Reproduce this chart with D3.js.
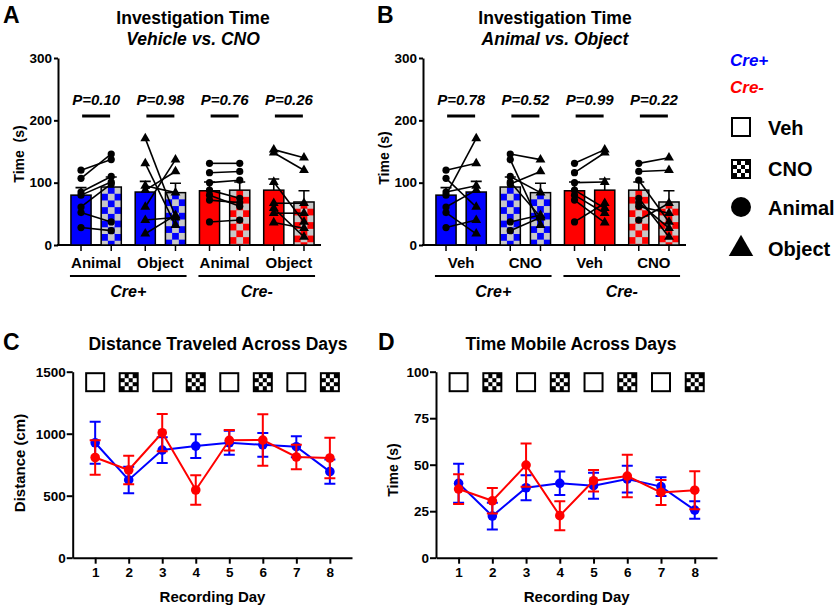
<!DOCTYPE html>
<html><head><meta charset="utf-8">
<script src="https://cdn.jsdelivr.net/npm/d3@7"></script>
<style>
body{margin:0;background:#fff}
svg{display:block;font-family:"Liberation Sans",Arial,Helvetica,sans-serif;font-weight:bold}
</style>
</head><body>
<svg id="fig" width="837" height="609"></svg>
<script>
// ---------------- DATA ----------------
const genotypes = ["Cre+", "Cre-"];
const measures = ["Animal", "Object"];
const treatments = ["Veh", "CNO"];
// bar means / SEM, order: [Animal-Veh, Animal-CNO, Object-Veh, Object-CNO]
const crePlusMean = [80, 93, 85, 84];
const crePlusSem = [12, 16, 17, 15];
const creMinusMean = [87, 88, 88, 69];
const creMinusSem = [14, 13, 18, 18];
// individual mice (s)
const crePlusAnimalVeh = [120, 107, 85, 80, 61, 52, 28];
const crePlusAnimalCNO = [137, 146, 110, 101, 98, 37, 23];
const crePlusObjectVeh = [131, 61, 95, 171, 88, 18, 40];
const crePlusObjectCNO = [32, 137, 84, 45, 118, 48, 44];
const creMinusAnimalVeh = [131, 116, 100, 88, 80, 72, 37];
const creMinusAnimalCNO = [131, 118, 104, 75, 62, 68, 40];
const creMinusObjectVeh = [153, 148, 101, 59, 51, 36, 67];
const creMinusObjectCNO = [140, 120, 37, 13, 51, 27, 67];
const pValuesA = ["P=0.10", "P=0.98", "P=0.76", "P=0.26"];
const pValuesB = ["P=0.78", "P=0.52", "P=0.99", "P=0.22"];
const yTicksAB = [0, 100, 200, 300];

const days = [1, 2, 3, 4, 5, 6, 7, 8];
const dayTreatment = ["Veh", "CNO", "Veh", "CNO", "Veh", "CNO", "Veh", "CNO"];
const distCrePlus = [927, 627, 868, 900, 927, 910, 895, 694];
const distCrePlusSem = [170, 107, 104, 95, 97, 95, 85, 97];
const distCreMinus = [808, 707, 1008, 546, 947, 949, 812, 804];
const distCreMinusSem = [140, 115, 150, 118, 83, 208, 98, 163];
const yTicksC = [0, 500, 1000, 1500];
const mobCrePlus = [40.0, 22.4, 37.6, 40.0, 38.7, 42.3, 38.2, 25.6];
const mobCrePlusSem = [10.5, 7.2, 6.7, 6.3, 7.0, 7.2, 5.0, 4.7];
const mobCreMinus = [36.9, 30.6, 49.8, 22.6, 41.4, 43.9, 35.1, 36.3];
const mobCreMinusSem = [8.0, 6.9, 11.6, 7.8, 5.8, 11.4, 6.7, 10.2];
const yTicksD = [0, 25, 50, 75, 100];

// ---------------- SETUP ----------------
const BLUE = "#0000ff", RED = "#ff0000", GRAY = "#c8c8c8";
const colorOf = g => g === "Cre+" ? BLUE : RED;
const mice = {
  "Cre+": {Animal: {Veh: crePlusAnimalVeh, CNO: crePlusAnimalCNO}, Object: {Veh: crePlusObjectVeh, CNO: crePlusObjectCNO}},
  "Cre-": {Animal: {Veh: creMinusAnimalVeh, CNO: creMinusAnimalCNO}, Object: {Veh: creMinusObjectVeh, CNO: creMinusObjectCNO}}
};
const meanOf = g => g === "Cre+" ? crePlusMean : creMinusMean;
const semOf = g => g === "Cre+" ? crePlusSem : creMinusSem;
const idx = (m, t) => measures.indexOf(m) * 2 + treatments.indexOf(t);

const svg = d3.select("#fig");
const defs = svg.append("defs");
let pid = 0;
function checkerPattern(color, x0, y0, cell) {
  const id = "chk" + (pid++);
  const p = defs.append("pattern").attr("id", id).attr("patternUnits", "userSpaceOnUse")
    .attr("x", x0).attr("y", y0).attr("width", cell * 2).attr("height", cell * 2);
  p.append("rect").attr("width", cell * 2).attr("height", cell * 2).attr("fill", GRAY);
  p.append("rect").attr("x", cell).attr("width", cell).attr("height", cell).attr("fill", color);
  p.append("rect").attr("y", cell).attr("width", cell).attr("height", cell).attr("fill", color);
  return "url(#" + id + ")";
}
function styleAxis(sel, fs) {
  sel.attr("font-size", null).attr("font-family", null);
  sel.selectAll("path,line").attr("stroke", "#000").attr("stroke-width", 2);
  sel.selectAll("text").style("font-size", (fs || 13) + "px").style("font-weight", "bold").attr("fill", "#000")
    .style("font-family", '"Liberation Sans",Arial,sans-serif');
}
function triangle(sz) { return d3.symbol(d3.symbolTriangle).size(sz)(); }
function cnoIcon(g, cx, top, size) {
  g.append("rect").attr("x", cx - size / 2).attr("y", top).attr("width", size).attr("height", size).attr("fill", "#000");
  const inner = size - 4, n = 4, c = inner / n;
  for (let r = 0; r < n; r++) for (let k = 0; k < n; k++) if ((r + k) % 2 === 0)
    g.append("rect").attr("x", cx - size / 2 + 2 + k * c).attr("y", top + 2 + r * c).attr("width", c).attr("height", c).attr("fill", "#fff");
}
function vehIcon(g, cx, top, size) {
  g.append("rect").attr("x", cx - size / 2 + 1).attr("y", top + 1).attr("width", size - 2).attr("height", size - 2)
    .attr("fill", "#fff").attr("stroke", "#000").attr("stroke-width", 2);
}

// ---------------- BAR PANELS (A, B) ----------------
function drawBarPanel(P) {
  const g = svg.append("g");
  const y = d3.scaleLinear().domain([0, 300]).range([245, 58]);
  const x0 = d3.scaleBand().domain(d3.range(P.groups.length)).range(P.range);
  const x1 = d3.scaleBand().domain([0, 1]).range([0, x0.bandwidth()]).paddingInner(1 / 3).paddingOuter(0.23);

  g.append("text").attr("x", P.letterX).attr("y", 23).attr("font-size", 23).text(P.letter);
  g.append("text").attr("x", P.titleX).attr("y", 24).attr("text-anchor", "middle").attr("font-size", 17.5).text(P.title[0]);
  g.append("text").attr("x", P.titleX).attr("y", 45).attr("text-anchor", "middle").attr("font-size", 17.5)
    .attr("font-style", "italic").text(P.title[1]);

  const ya = g.append("g").attr("transform", `translate(${P.axisX},0)`)
    .call(d3.axisLeft(y).tickValues(yTicksAB).tickFormat(d3.format("d")).tickSize(4).tickPadding(2).tickSizeOuter(0));
  styleAxis(ya, 13.5);
  g.append("line").attr("x1", P.axisX - 1).attr("x2", P.range[1]).attr("y1", y(0)).attr("y2", y(0))
    .attr("stroke", "#000").attr("stroke-width", 2);
  g.append("text").attr("transform", `translate(${P.ylabX},${P.ylabY}) rotate(-90)`).attr("text-anchor", "middle")
    .attr("font-size", P.ylabSize).style("white-space", "pre").text(P.ylab);

  const bars = [];
  P.groups.forEach((grp, gi) => grp.bars.forEach((b, bi) => {
    const bar = Object.assign({}, b, {gi, bi});
    bar.x = x0(gi) + x1(bi);
    bar.w = x1.bandwidth();
    bar.cx = bar.x + bar.w / 2;
    bar.mean = meanOf(b.g)[idx(b.m, b.t)];
    bar.sem = semOf(b.g)[idx(b.m, b.t)];
    bar.vals = mice[b.g][b.m][b.t];
    bar.fill = b.t === "Veh" ? colorOf(b.g) : checkerPattern(colorOf(b.g), bar.x, y(bar.mean), bar.w / 3);
    bars.push(bar);
  }));

  g.selectAll(".bt").data(bars).join("line").attr("x1", d => d.cx).attr("x2", d => d.cx)
    .attr("y1", y(0)).attr("y2", y(0) + 6).attr("stroke", "#000").attr("stroke-width", 1.5);
  g.selectAll(".eb").data(bars).join("path")
    .attr("d", d => `M${d.cx},${y(d.mean)}V${y(d.mean + d.sem)}M${d.cx - 5.5},${y(d.mean + d.sem)}H${d.cx + 5.5}`)
    .attr("stroke", "#000").attr("stroke-width", 1.6).attr("fill", "none");
  g.selectAll(".bar").data(bars).join("rect").attr("x", d => d.x).attr("y", d => y(d.mean))
    .attr("width", d => d.w).attr("height", d => y(0) - y(d.mean)).attr("fill", d => d.fill)
    .attr("stroke", "#000").attr("stroke-width", 1.5);

  P.groups.forEach((grp, gi) => {
    const b0 = bars.find(b => b.gi === gi && b.bi === 0), b1 = bars.find(b => b.gi === gi && b.bi === 1);
    b0.vals.forEach((v, i) => {
      g.append("line").attr("x1", b0.cx).attr("y1", y(v)).attr("x2", b1.cx).attr("y2", y(b1.vals[i]))
        .attr("stroke", "#000").attr("stroke-width", 1.6);
    });
  });
  bars.forEach(b => {
    b.vals.forEach(v => {
      if (b.m === "Animal") g.append("circle").attr("cx", b.cx).attr("cy", y(v)).attr("r", 3.6).attr("fill", "#000");
      else g.append("path").attr("d", triangle(42)).attr("transform", `translate(${b.cx},${y(v)})`).attr("fill", "#000");
    });
  });

  P.groups.forEach((grp, gi) => {
    const cx = x0(gi) + x0.bandwidth() / 2;
    g.append("text").attr("x", cx).attr("y", 268).attr("text-anchor", "middle").attr("font-size", 15).text(grp.label);
    g.append("text").attr("x", cx).attr("y", 105).attr("text-anchor", "middle").attr("font-size", 15)
      .attr("font-style", "italic").text(P.p[gi]);
    g.append("line").attr("x1", cx - 14).attr("x2", cx + 14).attr("y1", 116).attr("y2", 116)
      .attr("stroke", "#000").attr("stroke-width", 3);
  });
  genotypes.forEach(gt => {
    const bs = bars.filter(b => b.g === gt);
    const xa = d3.min(bs, b => b.x) - 1, xb = d3.max(bs, b => b.x + b.w) + 1;
    g.append("line").attr("x1", xa).attr("x2", xb).attr("y1", 276).attr("y2", 276).attr("stroke", "#000").attr("stroke-width", 2);
    g.append("text").attr("x", (xa + xb) / 2).attr("y", 297).attr("text-anchor", "middle").attr("font-size", 16)
      .attr("font-style", "italic").text(gt);
  });
}

drawBarPanel({
  letter: "A", letterX: 3, title: ["Investigation Time", "Vehicle vs. CNO"], titleX: 193,
  axisX: 58, range: [64, 321], ylab: "Time  (s)", ylabX: 24, ylabY: 154, ylabSize: 14, p: pValuesA,
  groups: genotypes.flatMap(gt => measures.map(m => ({label: m, bars: treatments.map(t => ({g: gt, m, t}))})))
});
drawBarPanel({
  letter: "B", letterX: 377, title: ["Investigation Time", "Animal vs. Object"], titleX: 555,
  axisX: 423, range: [429, 686], ylab: "Time (s)", ylabX: 389, ylabY: 158, ylabSize: 14, p: pValuesB,
  groups: genotypes.flatMap(gt => treatments.map(t => ({label: t, bars: measures.map(m => ({g: gt, m, t}))})))
});

// ---------------- LEGEND ----------------
(function () {
  const g = svg.append("g");
  g.append("text").attr("x", 730).attr("y", 66).attr("font-size", 17).attr("font-style", "italic").attr("fill", BLUE).text(genotypes[0]);
  g.append("text").attr("x", 730).attr("y", 93).attr("font-size", 17).attr("font-style", "italic").attr("fill", RED).text(genotypes[1]);
  vehIcon(g, 741, 117, 20);
  g.append("text").attr("x", 768).attr("y", 135).attr("font-size", 20).text(treatments[0]);
  cnoIcon(g, 741, 159, 20);
  g.append("text").attr("x", 768).attr("y", 176).attr("font-size", 20).text(treatments[1]);
  g.append("circle").attr("cx", 741).attr("cy", 207).attr("r", 10).attr("fill", "#000");
  g.append("text").attr("x", 768).attr("y", 215).attr("font-size", 20).text(measures[0]);
  g.append("path").attr("d", triangle(260)).attr("transform", "translate(741,249)").attr("fill", "#000");
  g.append("text").attr("x", 768).attr("y", 256).attr("font-size", 20).text(measures[1]);
})();

// ---------------- LINE PANELS (C, D) ----------------
function drawLinePanel(P) {
  const g = svg.append("g");
  const y = d3.scaleLinear().domain([0, P.max]).range([557.7, 371.7]);
  const x = d3.scaleLinear().domain([0.33, 8.66]).range([P.axisX, P.end]);

  g.append("text").attr("x", P.letterX).attr("y", 350).attr("font-size", 23).text(P.letter);
  g.append("text").attr("x", P.titleX).attr("y", 350).attr("text-anchor", "middle").attr("font-size", 17.5).text(P.title);

  const ya = g.append("g").attr("transform", `translate(${P.axisX},0)`)
    .call(d3.axisLeft(y).tickValues(P.ticks).tickFormat(d3.format("d")).tickSize(6).tickPadding(1).tickSizeOuter(0));
  styleAxis(ya, 13.5);
  const xa = g.append("g").attr("transform", `translate(0,${y(0)})`)
    .call(d3.axisBottom(x).tickValues(days).tickFormat(d3.format("d")).tickSize(6).tickPadding(4).tickSizeOuter(0));
  styleAxis(xa, 13.5);
  g.append("text").attr("transform", `translate(${P.ylabX},${P.ylabY}) rotate(-90)`).attr("text-anchor", "middle")
    .attr("font-size", P.ylabSize).text(P.ylab);
  g.append("text").attr("x", (x(1) + x(8)) / 2).attr("y", 602).attr("text-anchor", "middle").attr("font-size", 15).text("Recording Day");

  days.forEach((d, i) => {
    if (dayTreatment[i] === "Veh") vehIcon(g, x(d), y(P.max) + 0.5, 20);
    else cnoIcon(g, x(d), y(P.max) + 0.5, 20);
  });

  P.series.forEach(s => {
    const pts = days.map((d, i) => ({d, v: s.vals[i], e: s.sem[i]}));
    g.append("g").selectAll("path").data(pts).join("path")
      .attr("d", p => `M${x(p.d)},${y(p.v - p.e)}V${y(p.v + p.e)}M${x(p.d) - 5.5},${y(p.v + p.e)}H${x(p.d) + 5.5}M${x(p.d) - 5.5},${y(p.v - p.e)}H${x(p.d) + 5.5}`)
      .attr("stroke", s.color).attr("stroke-width", 2).attr("fill", "none");
    g.append("path").datum(pts).attr("d", d3.line().x(p => x(p.d)).y(p => y(p.v)))
      .attr("stroke", s.color).attr("stroke-width", 2).attr("fill", "none");
    g.append("g").selectAll("circle").data(pts).join("circle")
      .attr("cx", p => x(p.d)).attr("cy", p => y(p.v)).attr("r", 4.8).attr("fill", s.color);
  });
}

drawLinePanel({
  letter: "C", letterX: 3, title: "Distance Traveled Across Days", titleX: 218,
  axisX: 72.7, end: 352, max: 1500, ticks: yTicksC, ylab: "Distance (cm)", ylabX: 25, ylabY: 463, ylabSize: 15,
  series: [{vals: distCrePlus, sem: distCrePlusSem, color: BLUE}, {vals: distCreMinus, sem: distCreMinusSem, color: RED}]
});
drawLinePanel({
  letter: "D", letterX: 378, title: "Time Mobile Across Days", titleX: 571,
  axisX: 436, end: 717, max: 100, ticks: yTicksD, ylab: "Time (s)", ylabX: 398, ylabY: 470, ylabSize: 14,
  series: [{vals: mobCrePlus, sem: mobCrePlusSem, color: BLUE}, {vals: mobCreMinus, sem: mobCreMinusSem, color: RED}]
});
</script>
</body></html>
